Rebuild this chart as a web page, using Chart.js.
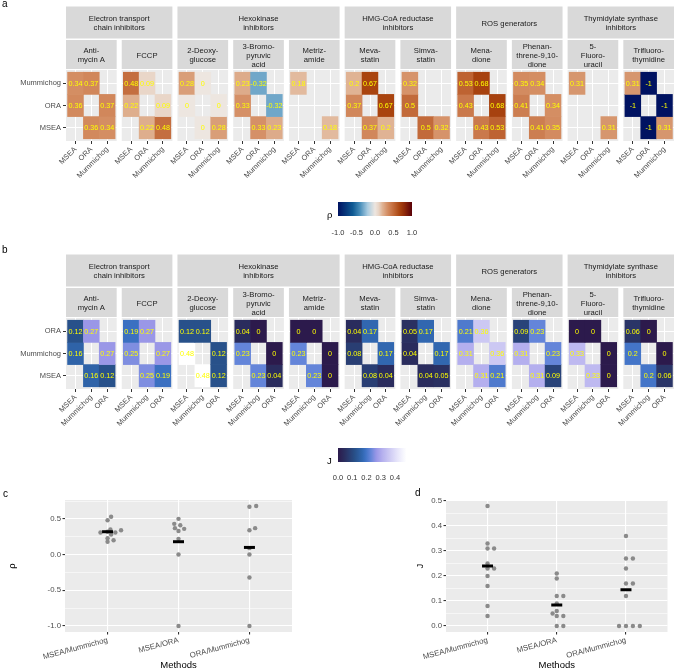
<!DOCTYPE html>
<html>
<head>
<meta charset="utf-8">
<title>Method agreement</title>
<script src="https://cdn.jsdelivr.net/npm/chart.js@4.4.1/dist/chart.umd.min.js"></script>
<style>
  body { margin: 0; background: #fff; font-family: "Liberation Sans", Arial, sans-serif; }
  #wrap { position: relative; width: 676px; height: 671px; overflow: hidden; }
  canvas { position: absolute; }
  .tag { position: absolute; font-size: 10px; color: #000; line-height: 1; }
</style>
</head>
<body>
<div id="wrap">
  <canvas id="heatA" width="676" height="195" style="left:0;top:0"></canvas>
  <canvas id="legA" width="140" height="40" style="left:300px;top:195px"></canvas>
  <canvas id="heatB" width="676" height="195" style="left:0;top:248px"></canvas>
  <canvas id="legB" width="140" height="40" style="left:300px;top:441px"></canvas>
  <canvas id="dotC" width="338" height="191" style="left:0;top:480px"></canvas>
  <canvas id="dotD" width="338" height="191" style="left:338px;top:480px"></canvas>
  <div class="tag" style="left:2px;top:-1px">a</div>
  <div class="tag" style="left:2px;top:245px">b</div>
  <div class="tag" style="left:3px;top:489px">c</div>
  <div class="tag" style="left:415px;top:488px">d</div>
</div>
<script>
// ---- data ----
var drugs = [['Anti-', 'mycin A'], ['FCCP'], ['2-Deoxy-', 'glucose'], ['3-Bromo-', 'pyruvic', 'acid'],
    ['Metriz-', 'amide'], ['Meva-', 'statin'], ['Simva-', 'statin'], ['Mena-', 'dione'],
    ['Phenan-', 'threne-9,10-', 'dione'], ['5-', 'Fluoro-', 'uracil'], ['Trifluoro-', 'thymidine']];
var groups = [['Electron transport', 'chain inhibitors'], ['Hexokinase', 'inhibitors'],
    ['HMG-CoA reductase', 'inhibitors'], ['ROS generators'], ['Thymidylate synthase', 'inhibitors']];
var groupSizes = [2, 3, 2, 2, 2];

var methodsA = ['MSEA', 'ORA', 'Mummichog'];
var methodsB = ['MSEA', 'Mummichog', 'ORA'];

// Spearman rho, one value per drug (null = not available)
var rhoMsMu = [0.34, 0.48, 0.28, 0.23, 0.18, 0.2, 0.32, 0.53, 0.35, 0.31, 0.31];
var rhoMsOra = [0.36, 0.22, 0, 0.33, null, 0.37, 0.5, 0.43, 0.41, null, -1];
var rhoOraMu = [0.37, 0.09, 0, -0.32, null, 0.67, null, 0.68, 0.34, null, -1];

// Jaccard index, one value per drug
var jMsMu = [0.16, 0.25, 0.48, 0.23, 0.23, 0.08, 0.04, 0.31, 0.31, 0.33, 0.2];
var jMsOra = [0.12, 0.19, 0.12, 0.04, 0, 0.04, 0.05, 0.21, 0.09, 0, 0.06];
var jOraMu = [0.27, 0.27, 0.12, 0, 0, 0.17, 0.17, 0.36, 0.23, 0, 0];

var pairs = ['MSEA/Mummichog', 'MSEA/ORA', 'ORA/Mummichog'];
var rhoMeans = [0.32, 0.18, 0.1];
var jMeans = [0.24, 0.084, 0.145];

// sideways spread of the dots in c and d (per pair, per drug)
var rhoSpread = [[0.19, 0, 0.05, 0, 0, 0.085, 0, 0.05, 0.04, -0.1, 0.11],
    [0.08, 0, 0, 0, 0, -0.05, 0, -0.06, 0.025, 0, 0],
    [0.08, 0, 0, 0, 0, 0, 0, 0.095, 0, 0, 0]];
var jSpread = [[0, 0, 0, 0, 0.095, 0, 0, 0, 0.095, 0, 0],
    [0, 0, 0.095, 0, 0, 0.095, -0.06, 0, 0, 0.095, 0],
    [0, 0.1, 0, -0.1, 0, 0, 0.1, 0, 0, 0.1, 0.2]];

var rhoLegendTicks = [-1, -0.5, 0, 0.5, 1];
var jLegendTicks = [0, 0.1, 0.2, 0.3, 0.4];

// ---- colours ----
var rhoStops = [[-1, '#001261'], [-0.6, '#0f5a93'], [-0.4, '#4a8fba'], [-0.2, '#a9cbe0'], [0, '#ede6e0'],
    [0.1, '#e8d4c5'], [0.2, '#e0b394'], [0.35, '#d38b60'], [0.5, '#c26a3a'], [0.67, '#a9440f'],
    [0.8, '#8f2a0a'], [1, '#590008']];
var jStops = [[0, '#2c1a4c'], [0.048, '#2a2f60'], [0.12, '#28518a'], [0.168, '#3066ae'], [0.192, '#3c71c3'],
    [0.23, '#6485d9'], [0.27, '#9a97e7'], [0.312, '#b5b0ee'], [0.36, '#ccc8f3'], [0.42, '#e8e6fa'], [0.48, '#ffffff']];

function hexRgb(h) {
    var n = parseInt(h.slice(1), 16);
    return [(n >> 16) & 255, (n >> 8) & 255, n & 255];
}
function scaleColor(stops, v) {
    if (v <= stops[0][0]) return stops[0][1];
    for (var i = 1; i < stops.length; i++) {
        if (v <= stops[i][0]) {
            var t = (v - stops[i - 1][0]) / (stops[i][0] - stops[i - 1][0]);
            var p = hexRgb(stops[i - 1][1]), q = hexRgb(stops[i][1]);
            return 'rgb(' + p.map(function(c, k) { return Math.round(c + (q[k] - c) * t); }).join(',') + ')';
        }
    }
    return stops[stops.length - 1][1];
}
var rhoColor = function(v) { return scaleColor(rhoStops, v); };
var jColor = function(v) { return scaleColor(jStops, v); };

var FONT = '"Liberation Sans", Arial, sans-serif';
Chart.defaults.font.family = FONT;

function lookup(ms, mo, om) {
    var tab = {'MSEA/Mummichog': ms, 'MSEA/ORA': mo, 'Mummichog/ORA': om};
    return function(f, a, b) {
        var v = tab[[a, b].sort().join('/')][f];
        return v === undefined ? null : v;
    };
}

// ---- faceted heatmaps (a, b) ----
var FW = 3.2, GAP = 0.32;
function facetStart(f) { return f * (FW + GAP); }

function drawStrip(ctx, l, r, top, h, lines) {
    ctx.fillStyle = '#d9d9d9';
    ctx.fillRect(l, top, r - l, h);
    ctx.fillStyle = '#1a1a1a';
    ctx.font = '7.7px ' + FONT;
    ctx.textAlign = 'center';
    ctx.textBaseline = 'middle';
    var lh = 9, y0 = top + h / 2 - (lines.length - 1) * lh / 2 + 1;
    lines.forEach(function(t, i) { ctx.fillText(t, (l + r) / 2, y0 + i * lh); });
}

var facetPlugin = {
    id: 'facets',
    beforeDraw: function(chart) {
        var ctx = chart.ctx, ca = chart.chartArea, x = chart.scales.x;
        ctx.save();
        drugs.forEach(function(lines, f) {
            var l = x.getPixelForValue(facetStart(f)), r = x.getPixelForValue(facetStart(f) + FW);
            ctx.fillStyle = '#ebebeb';
            ctx.fillRect(l, ca.top, r - l, ca.bottom - ca.top);
            drawStrip(ctx, l, r, ca.top - 30, 29, lines);
        });
        var f0 = 0;
        groups.forEach(function(lines, g) {
            var f1 = f0 + groupSizes[g] - 1;
            var l = x.getPixelForValue(facetStart(f0)), r = x.getPixelForValue(facetStart(f1) + FW);
            drawStrip(ctx, l, r, ca.top - 63.5, 32, lines);
            f0 += groupSizes[g];
        });
        ctx.restore();
    }
};

var cellText = {
    id: 'cellText',
    afterDatasetsDraw: function(chart) {
        var ctx = chart.ctx, ds = chart.data.datasets[0];
        ctx.save();
        ctx.fillStyle = '#ffff00';
        ctx.font = '7.2px ' + FONT;
        ctx.textAlign = 'center';
        ctx.textBaseline = 'middle';
        chart.getDatasetMeta(0).data.forEach(function(bar, i) {
            ctx.fillText(String(ds.data[i].v), bar.x, (bar.y + bar.base) / 2 + 0.5);
        });
        ctx.restore();
    }
};

function heatChart(id, methods, pairVal, colorFn, padTop) {
    var cells = [], fills = [], colTicks = [];
    drugs.forEach(function(d, f) {
        methods.forEach(function(rowM, r) {
            methods.forEach(function(colM, c) {
                if (r === c) return;
                var v = pairVal(f, rowM, colM);
                if (v === null) return;
                cells.push({x: facetStart(f) + 0.6 + c, y: [r + 0.5, r + 1.5], v: v});
                fills.push(colorFn(v));
            });
        });
        methods.forEach(function(m, c) { colTicks.push(facetStart(f) + 0.6 + c); });
    });
    var canvas = document.getElementById(id);
    var xHeight = canvas.height - padTop - 71;
    return new Chart(canvas, {
        type: 'bar',
        data: {datasets: [{data: cells, backgroundColor: fills, borderWidth: 0,
            barPercentage: 1, categoryPercentage: 1}]},
        options: {
            responsive: false,
            animation: false,
            events: [],
            layout: {padding: {top: padTop, right: 2, left: 0, bottom: 0}},
            plugins: {legend: {display: false}, tooltip: {enabled: false}},
            scales: {
                x: {
                    type: 'linear', min: 0, max: facetStart(drugs.length - 1) + FW,
                    offset: false, bounds: 'data',
                    afterBuildTicks: function(s) { s.ticks = colTicks.map(function(v) { return {value: v}; }); },
                    afterFit: function(s) { s.height = xHeight; s.paddingLeft = 0; s.paddingRight = 0; },
                    ticks: {autoSkip: false, minRotation: 45, maxRotation: 45, padding: 1, color: '#4d4d4d',
                        font: {size: 7.5}, callback: function(v, i) { return methods[i % 3]; }},
                    grid: {color: '#ffffff', lineWidth: 1, offset: false, tickLength: 3, tickColor: '#333333'},
                    border: {display: false}
                },
                y: {
                    type: 'linear', min: 0.4, max: 3.6, bounds: 'data',
                    afterBuildTicks: function(s) { s.ticks = methods.map(function(m, i) { return {value: i + 1}; }); },
                    afterFit: function(s) { s.width = 66; },
                    ticks: {autoSkip: false, padding: 2, color: '#4d4d4d', font: {size: 7.5},
                        callback: function(v, i) { return methods[i]; }},
                    grid: {color: '#ffffff', lineWidth: 1, tickLength: 3, tickColor: '#333333'},
                    border: {display: false}
                }
            }
        },
        plugins: [facetPlugin, cellText]
    });
}

// ---- colour bars ----
function colorbar(id, colorFn, lo, hi, tickVals, title, labelPad) {
    return new Chart(document.getElementById(id), {
        type: 'scatter',
        data: {datasets: []},
        options: {
            responsive: false,
            animation: false,
            events: [],
            layout: {padding: {left: 38, right: 28, top: 7, bottom: 0}},
            plugins: {legend: {display: false}, tooltip: {enabled: false}},
            scales: {
                x: {
                    type: 'linear', min: lo, max: hi, bounds: 'data',
                    afterBuildTicks: function(s) { s.ticks = tickVals.map(function(v) { return {value: v}; }); },
                    afterFit: function(s) { s.height = 19; s.paddingLeft = 0; s.paddingRight = 0; },
                    ticks: {autoSkip: false, maxRotation: 0, padding: labelPad, color: '#333333', font: {size: 7.5},
                        callback: function(v) { return v.toFixed(1); }},
                    grid: {display: false},
                    border: {display: false}
                },
                y: {display: false, min: 0, max: 1}
            }
        },
        plugins: [{
            id: 'bar',
            beforeDraw: function(chart) {
                var ctx = chart.ctx, a = chart.chartArea;
                var g = ctx.createLinearGradient(a.left, 0, a.right, 0);
                for (var i = 0; i <= 40; i++) g.addColorStop(i / 40, colorFn(lo + (hi - lo) * i / 40));
                ctx.save();
                ctx.fillStyle = g;
                ctx.fillRect(a.left, a.top, a.right - a.left, a.bottom - a.top);
                ctx.fillStyle = '#000';
                ctx.font = '9.5px ' + FONT;
                ctx.textAlign = 'left';
                ctx.textBaseline = 'alphabetic';
                ctx.fillText(title, a.left - 11, a.bottom + 2);
                ctx.restore();
            }
        }]
    });
}

// ---- dot plots (c, d) ----
var panelBg = {
    id: 'panelBg',
    beforeDraw: function(chart) {
        var a = chart.chartArea;
        chart.ctx.save();
        chart.ctx.fillStyle = '#ebebeb';
        chart.ctx.fillRect(a.left, a.top, a.right - a.left, a.bottom - a.top);
        chart.ctx.restore();
    }
};

function dotChart(id, series, spread, means, yMin, yMax, majors, minors, yTitle, titlePad, areaLeft, padRight) {
    var pts = [];
    series.forEach(function(vals, k) {
        vals.forEach(function(v, f) {
            if (v !== null) pts.push({x: k + 1 + spread[k][f], y: v});
        });
    });
    var canvas = document.getElementById(id);
    var isMinor = function(c) { return c.tick && c.tick.mn; };
    return new Chart(canvas, {
        type: 'scatter',
        data: {datasets: [
            {data: means.map(function(m, i) { return {x: i + 1, y: m}; }), pointStyle: 'line',
                pointRadius: 5.5, pointBorderWidth: 3, pointBorderColor: '#000000'},
            {data: pts, pointRadius: 2.2, pointBackgroundColor: '#8a8a8a', pointBorderWidth: 0}
        ]},
        options: {
            responsive: false,
            animation: false,
            events: [],
            layout: {padding: {top: 20, right: padRight, left: 0, bottom: 0}},
            plugins: {legend: {display: false}, tooltip: {enabled: false}},
            scales: {
                x: {
                    type: 'linear', min: 0.4, max: 3.6, bounds: 'data',
                    afterBuildTicks: function(s) { s.ticks = pairs.map(function(p, i) { return {value: i + 1}; }); },
                    afterFit: function(s) { s.height = 39; s.paddingLeft = 0; s.paddingRight = 0; },
                    ticks: {autoSkip: false, minRotation: 15, maxRotation: 15, padding: 1, color: '#4d4d4d',
                        font: {size: 7.8}, callback: function(v, i) { return pairs[i]; }},
                    grid: {color: '#ffffff', lineWidth: 1.1, tickLength: 2.5, tickColor: '#333333'},
                    border: {display: false},
                    title: {display: true, text: 'Methods', color: '#000', font: {size: 9.5}, padding: {top: 0, bottom: 0}}
                },
                y: {
                    type: 'linear', min: yMin, max: yMax, bounds: 'data',
                    afterBuildTicks: function(s) {
                        s.ticks = majors.map(function(v) { return {value: v}; })
                            .concat(minors.map(function(v) { return {value: v, mn: true}; }));
                    },
                    afterFit: function(s) { s.width = areaLeft; },
                    ticks: {autoSkip: false, padding: 1.5, color: '#4d4d4d', font: {size: 7.8},
                        callback: function(v, i, t) { return t[i].mn ? '' : v.toFixed(1); }},
                    grid: {
                        color: '#ffffff',
                        lineWidth: function(c) { return isMinor(c) ? 0.55 : 1.1; },
                        tickLength: 2.5,
                        tickColor: function(c) { return isMinor(c) ? 'rgba(0,0,0,0)' : '#333333'; }
                    },
                    border: {display: false},
                    title: {display: true, text: yTitle, color: '#000', font: {size: 9.5}, padding: {top: titlePad, bottom: 0}}
                }
            }
        },
        plugins: [panelBg]
    });
}

heatChart('heatA', methodsA, lookup(rhoMsMu, rhoMsOra, rhoOraMu), rhoColor, 70);
heatChart('heatB', methodsB, lookup(jMsMu, jMsOra, jOraMu), jColor, 70);
colorbar('legA', rhoColor, -1, 1, rhoLegendTicks, 'ρ', 4);
colorbar('legB', jColor, 0, 0.52, jLegendTicks, 'J', 3);
dotChart('dotC', [rhoMsMu, rhoMsOra, rhoOraMu], rhoSpread, rhoMeans, -1.084, 0.764,
    [-1, -0.5, 0, 0.5], [-0.75, -0.25, 0.25, 0.75], 'ρ', 7, 65, 46);
dotChart('dotD', [jMsMu, jMsOra, jOraMu], jSpread, jMeans, -0.024, 0.504,
    [0, 0.1, 0.2, 0.3, 0.4, 0.5], [0.05, 0.15, 0.25, 0.35, 0.45], 'J', 77, 108, 2);
</script>
</body>
</html>
